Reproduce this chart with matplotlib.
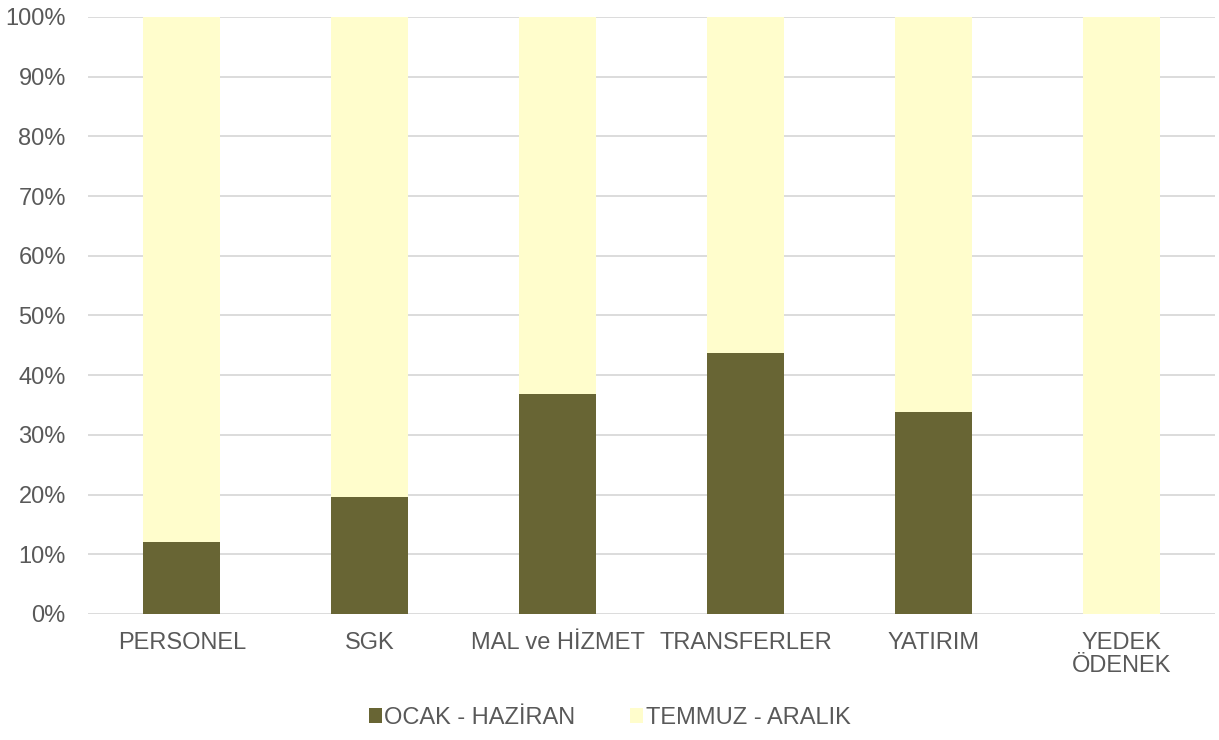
import matplotlib.pyplot as plt
from matplotlib.ticker import PercentFormatter

plt.rcParams['font.family'] = ['Liberation Sans', 'DejaVu Sans']

categories = ['PERSONEL', 'SGK', 'MAL ve HİZMET', 'TRANSFERLER', 'YATIRIM', 'YEDEK\nÖDENEK']
ocak_haziran = [12.1, 19.6, 36.8, 43.7, 33.8, 0.0]
temmuz_aralik = [100 - v for v in ocak_haziran]

dark = '#686534'
light = '#FFFDCC'
text_color = '#595959'

fig = plt.figure(figsize=(12.19, 7.40), dpi=100)
ax = fig.add_axes([0.0722, 0.1703, 0.9245, 0.8068])

x = range(len(categories))
ax.bar(x, ocak_haziran, width=0.41, color=dark, label='OCAK - HAZİRAN', zorder=3)
ax.bar(x, temmuz_aralik, width=0.41, bottom=ocak_haziran, color=light,
       label='TEMMUZ - ARALIK', zorder=3)

ax.set_xlim(-0.5, len(categories) - 0.5)
ax.set_ylim(0, 100)
ax.set_yticks(range(0, 101, 10))
ax.yaxis.set_major_formatter(PercentFormatter(decimals=0))
ax.set_xticks(list(x))
ax.set_xticklabels(categories, linespacing=1.05)
ax.grid(axis='y', color='#D9D9D9', linewidth=1.3, zorder=0)
for s in ax.spines.values():
    s.set_visible(False)
ax.tick_params(axis='both', length=0, labelsize=17, colors=text_color)
ax.tick_params(axis='x', pad=13)
ax.tick_params(axis='y', pad=16)

fig.legend(loc='center', bbox_to_anchor=(0.5, 0.03), ncol=2, frameon=False,
           fontsize=17, labelcolor=text_color, handlelength=0.55, handleheight=0.55,
           handletextpad=0.12, columnspacing=2.3)

fig.savefig('out.png', dpi=100)
